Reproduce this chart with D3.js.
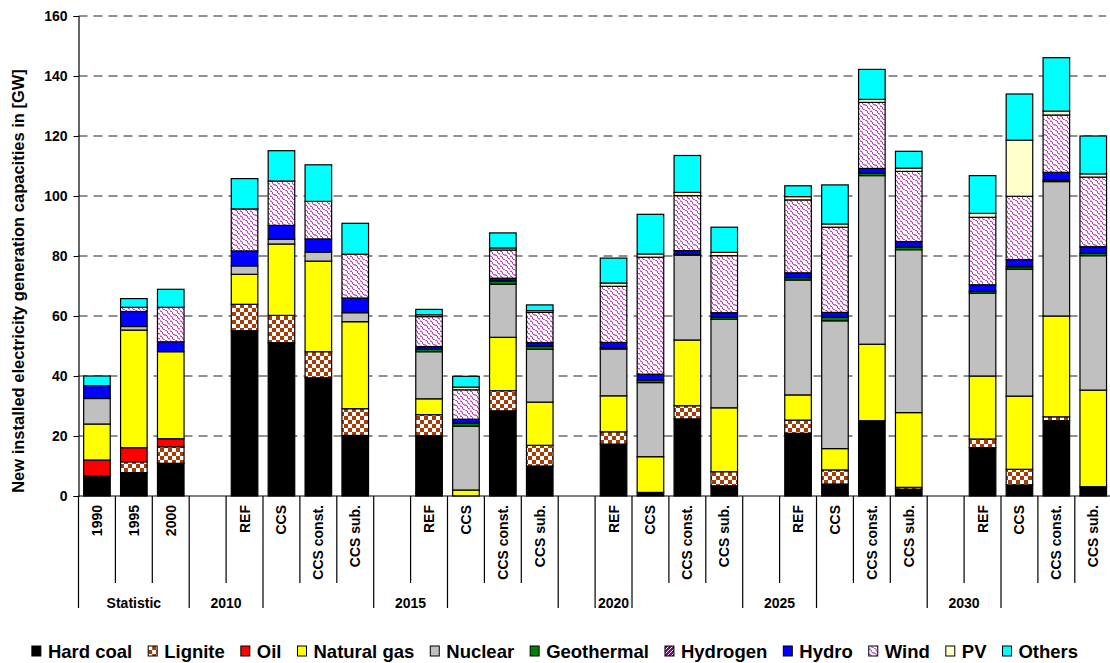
<!DOCTYPE html>
<html><head><meta charset="utf-8">
<script src="https://cdn.jsdelivr.net/npm/d3@7"></script>
<style>body{margin:0;background:#fff} svg{display:block;font-family:"Liberation Sans",Arial,sans-serif}</style>
</head><body>
<svg id="c" width="1110" height="663"></svg>
<script>
const categories = ["1990","1995","2000","","REF","CCS","CCS const.","CCS sub.","","REF","CCS","CCS const.","CCS sub.","","REF","CCS","CCS const.","CCS sub.","","REF","CCS","CCS const.","CCS sub.","","REF","CCS","CCS const.","CCS sub."];
const groupLabels = ["Statistic","2010","","2015","","","2020","","2025","","2030",""];
const groupSpans = [3,2,3,2,3,1,1,3,2,3,2,3];
const seriesNames = ["Hard coal","Lignite","Oil","Natural gas","Nuclear","Geothermal","Hydrogen","Hydro","Wind","PV","Others"];
const yTicks = [0,20,40,60,80,100,120,140,160];

const hardCoal   = [6.7,7.8,10.9,0, 55.1,51.1,39.4,20.2, 0, 20.1,0,28.4,10, 0, 17.3,1.2,25.7,3.4, 0, 20.9,4,25.1,2.3, 0, 16.1,3.7,25.1,3.1];
const lignite    = [0,3.6,5.5,0, 8.8,9.1,8.7,8.9, 0, 7,0,6.7,6.9, 0, 4.1,0,4.4,4.7, 0, 4.4,4.7,0,0.6, 0, 2.9,5.2,1.3,0];
const oil        = [5.3,4.7,2.7,0, 0,0,0,0, 0, 0,0,0,0, 0, 0,0,0,0, 0, 0,0,0,0, 0, 0,0,0,0];
const naturalGas = [12,39.2,29,0, 10,23.8,30.2,29, 0, 5.3,2,17.8,14.4, 0, 12,11.9,21.9,21.3, 0, 8.4,7.1,25.5,24.9, 0, 21,24.4,33.6,32.2];
const nuclear    = [8.5,1.2,0,0, 2.8,1.6,3,3, 0, 15.7,21.3,17.7,17.6, 0, 15.6,24.7,28.3,29.5, 0, 38.3,42.6,56.2,54.3, 0, 27.6,42.3,44.8,44.8];
const geothermal = [0,0,0,0, 0,0,0,0, 0, 0.8,1,1.1,1.1, 0, 0.3,0.9,0.2,0.7, 0, 0.8,1.2,0.8,0.9, 0, 0.6,0.8,0.5,0.8];
const hydrogen   = [0,0,0,0, 0,0,0,0, 0, 0,0,0,0, 0, 0,0,0,0, 0, 0,0,0,0, 0, 0,0,0,0];
const hydro      = [4.3,5,3.3,0, 5,4.6,4.4,4.9, 0, 0.9,1.3,0.9,1.1, 0, 1.9,1.9,1.3,1.5, 0, 1.6,1.6,1.6,1.8, 0, 2.2,2.4,2.6,2.2];
const wind       = [0,1.4,11.5,0, 14,14.8,12.5,14.6, 0, 10,9.8,9.4,10.1, 0, 18.7,39,18.3,19, 0, 24.3,28.4,22,23.4, 0, 22.5,21.1,19.1,23.2];
const pv         = [0,0,0,0, 0,0,0,0, 0, 0.6,0.9,0.7,0.6, 0, 1.1,1.1,1.1,1.1, 0, 1.1,1.1,1,1.1, 0, 1.3,18.7,1.3,1.1];
const others     = [3.2,2.9,6,0, 10.1,10.1,12.2,10.3, 0, 1.8,3.6,5,1.9, 0, 8.3,13.2,12.3,8.4, 0, 3.6,13,10,5.6, 0, 12.6,15.4,17.8,12.6];

const seriesValues = [hardCoal,lignite,oil,naturalGas,nuclear,geothermal,hydrogen,hydro,wind,pv,others];
const fills = ["#000000","url(#pLignite)","#FF0000","#FFFF00","#C0C0C0","#008000","url(#pHydrogen)","#0000FF","url(#pWind)","#FFFFCC","#00FFFF"];

const svg = d3.select("#c");
const defs = svg.append("defs");
// Lignite checker
const pl = defs.append("pattern").attr("id","pLignite").attr("patternUnits","userSpaceOnUse").attr("width",8).attr("height",8);
pl.append("rect").attr("width",8).attr("height",8).attr("fill","#fff");
pl.append("rect").attr("width",4).attr("height",4).attr("fill","#A63C08");
pl.append("rect").attr("x",4).attr("y",4).attr("width",4).attr("height",4).attr("fill","#A63C08");
// Wind wave
const pw = defs.append("pattern").attr("id","pWind").attr("patternUnits","userSpaceOnUse").attr("width",10).attr("height",10);
pw.append("rect").attr("width",10).attr("height",10).attr("fill","#fff");
pw.append("path")
  .attr("d","M0,1 C4,1 1,5 5,5 C9,5 6,9 10,9 M0,6 C4,6 1,10 5,10 M5,0 C9,0 6,4 10,4")
  .attr("fill","none").attr("stroke","#990099").attr("stroke-width",1);
// Hydrogen diagonal
const ph = defs.append("pattern").attr("id","pHydrogen").attr("patternUnits","userSpaceOnUse").attr("width",4).attr("height",4);
ph.append("rect").attr("width",4).attr("height",4).attr("fill","#800080");
ph.append("path").attr("d","M0,4 L4,0").attr("stroke","#fff").attr("stroke-width",1);

const x0 = 78.5, x1 = 1111.7, yTop = 16, yBot = 496;
const x = d3.scaleBand().domain(d3.range(categories.length)).range([x0,x1]).paddingInner(0.28).paddingOuter(0.14);
const y = d3.scaleLinear().domain([0,160]).range([yBot,yTop]);
const step = x.step();

// gridlines
svg.append("g").selectAll("line").data(yTicks.filter(d=>d>0)).join("line")
  .attr("x1",x0).attr("x2",1106).attr("y1",d=>y(d)).attr("y2",d=>y(d))
  .attr("stroke","#222").attr("stroke-dasharray","9,6").attr("stroke-width",1);

// stacked bars
const rows = categories.map((c,i)=>{const o={i}; seriesNames.forEach((s,k)=>o[s]=seriesValues[k][i]); return o;});
const stacked = d3.stack().keys(seriesNames)(rows);
const gb = svg.append("g");
stacked.forEach((layer,k)=>{
  gb.append("g").selectAll("rect").data(layer.filter(d=>d[1]-d[0]>0)).join("rect")
    .attr("x",d=>x(d.data.i)).attr("width",x.bandwidth())
    .attr("y",d=>y(d[1])).attr("height",d=>y(d[0])-y(d[1]))
    .attr("fill",fills[k]).attr("stroke","#000").attr("stroke-width",1.2);
});

// y axis
const ya = svg.append("g").attr("transform",`translate(${x0},0)`)
  .call(d3.axisLeft(y).tickValues(yTicks).tickSize(5).tickPadding(6));
ya.select(".domain").attr("stroke","#000").attr("stroke-width",1.2);
ya.selectAll(".tick line").attr("stroke","#000");
ya.selectAll("text").attr("font-size",14).attr("font-weight","bold").attr("fill","#000").attr("font-family","Liberation Sans, Arial, sans-serif");

// x axis baseline
svg.append("line").attr("x1",x0).attr("x2",1110).attr("y1",yBot).attr("y2",yBot).attr("stroke","#000").attr("stroke-width",1.2);

// category separators
const boundaries = new Set([0]);
let acc=0; groupSpans.forEach(s=>{acc+=s; boundaries.add(acc);});
d3.range(categories.length).forEach(k=>{
  const xx = x0 + k*step;
  svg.append("line").attr("x1",xx).attr("x2",xx).attr("y1",yBot).attr("y2",boundaries.has(k)?608:583)
    .attr("stroke","#000").attr("stroke-width",1.2);
});

// category labels
svg.append("g").selectAll("text").data(categories.map((c,i)=>({c,i})).filter(d=>d.c)).join("text")
  .attr("transform",d=>`translate(${x(d.i)+x.bandwidth()/2+5},505) rotate(-90)`)
  .attr("text-anchor","end").attr("font-size",14).attr("font-weight","bold").text(d=>d.c);

// group labels
acc=0;
groupLabels.forEach((g,j)=>{
  const a=acc, b=acc+groupSpans[j]; acc=b;
  if(!g) return;
  svg.append("text").attr("x",x0+(a+b)/2*step).attr("y",608).attr("text-anchor","middle")
    .attr("font-size",14).attr("font-weight","bold").text(g);
});

// y title
svg.append("text").attr("transform","translate(24,281) rotate(-90)").attr("text-anchor","middle")
  .attr("font-size",16.5).attr("font-weight","bold").text("New installed electricity generation capacities in [GW]");

// legend
const lg = svg.append("g");
let lx = 0;
seriesNames.forEach((s,k)=>{
  const it = lg.append("g").attr("transform",`translate(${lx},0)`);
  it.append("rect").attr("x",0).attr("y",-12).attr("width",9).attr("height",10).attr("fill",fills[k]).attr("stroke","#000").attr("stroke-width",1);
  const t = it.append("text").attr("x",16).attr("y",0).attr("font-size",18.5).attr("font-weight","bold").text(s);
  lx += 16 + t.node().getComputedTextLength() + 16;
});
lx -= 16;
lg.attr("transform",`translate(${(1110-lx)/2},658)`);
</script>
</body></html>
